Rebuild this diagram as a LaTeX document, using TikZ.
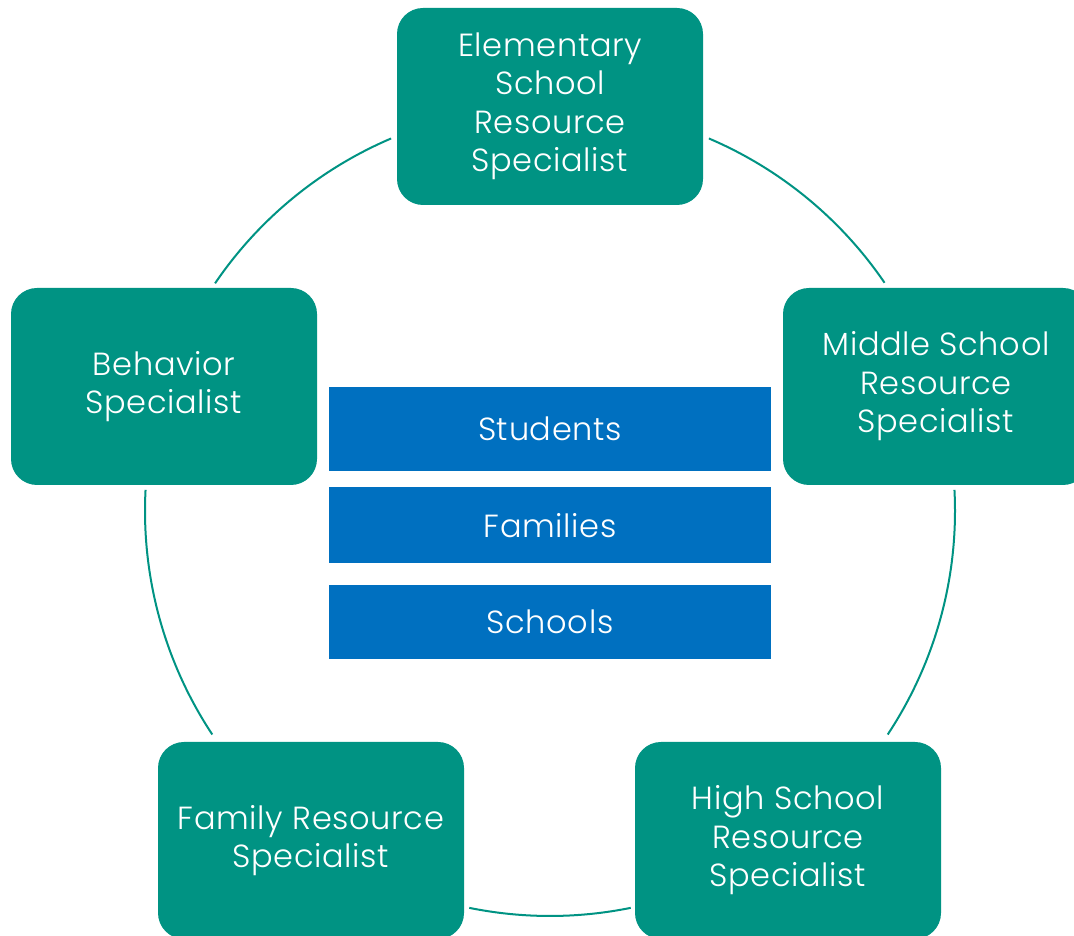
\documentclass[tikz,border=0pt]{standalone}
\usepackage{fontspec}
\setmainfont{Poppins}[UprightFont=* Light, LetterSpace=2]
\usetikzlibrary{positioning, calc}
\definecolor{roleteal}{RGB}{0,147,131}
\definecolor{groupblue}{RGB}{0,112,192}

\tikzset{
    role/.style={rectangle, rounded corners=26pt, fill=roleteal, text=white, inner sep=0pt,
        minimum width=306pt, minimum height=197pt, align=center,
        font=\fontsize{32}{38.5}\selectfont},
    group/.style={rectangle, fill=groupblue, text=white, inner sep=0pt,
        minimum width=442pt, font=\fontsize{32}{38.5}\selectfont},
    ring/.style={draw=roleteal, line width=2pt}
}

\begin{document}
\begin{tikzpicture}[x=1pt, y=1pt]
    \useasboundingbox (0, 0) rectangle (1074, 936);
    \coordinate (hub) at (550, 425);

    \node[role] (elem) at (550, 829.5) {Elementary\\School\\Resource\\Specialist};
    \node[role] (mid) at (936, 549.5) {Middle School\\Resource\\Specialist};
    \node[role] (high) at (788, 95.5) {High School\\Resource\\Specialist};
    \node[role] (fam) at (311, 95.5) {Family Resource\\Specialist};
    \node[role] (behav) at (164, 549.5) {Behavior\\Specialist};

    \node[group, minimum height=84pt] (students) at (550, 507) {Students};
    \node[group, minimum height=76pt, below=16pt of students] (families) {Families};
    \node[group, minimum height=74pt, below=21pt of families] (schools) {Schools};

    % ring pieces between the boxes
    \foreach \a/\b in {66.9/34.3, 3/-33.5, -78.5/-101.5, -146.5/-183, 145.8/113.1}
        \draw[ring] ($(hub) + (\a:405)$) arc[start angle=\a, end angle=\b, radius=405];
\end{tikzpicture}
\end{document}
